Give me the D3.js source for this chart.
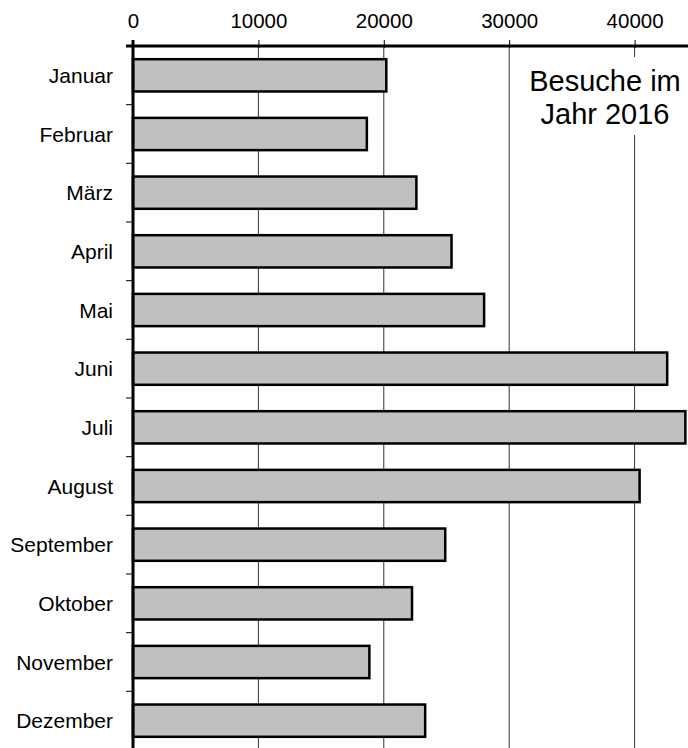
<!DOCTYPE html>
<html><head><meta charset="utf-8">
<script src="https://cdn.jsdelivr.net/npm/d3@7"></script>
<style>body{margin:0;background:#fff}svg{display:block}text{font-family:"Liberation Sans",Arial,sans-serif}</style>
</head><body>
<svg id="c" width="688" height="748"></svg>
<script>
const months = ["Januar","Februar","März","April","Mai","Juni","Juli","August","September","Oktober","November","Dezember"];
const visits = [20200,18650,22600,25400,28000,42600,44050,40400,24900,22250,18850,23300];
const xTicks = [0,10000,20000,30000,40000];
const titleLines = ["Besuche im","Jahr 2016"];

const svg = d3.select("#c");
const x = d3.scaleLinear().domain([0,44260]).range([133,688]);
const y = d3.scaleBand().domain(months).range([46,750]).paddingInner(0.45).paddingOuter(0.225);

// gridlines
svg.append("g").selectAll("line").data(xTicks.slice(1)).join("line")
  .attr("x1",d=>x(d)).attr("x2",d=>x(d)).attr("y1",46).attr("y2",748)
  .attr("stroke","#333").attr("stroke-width",1);

// title with white background
const tg = svg.append("g");
tg.append("rect").attr("x",x(40000)-6).attr("y",57).attr("width",12).attr("height",78).attr("fill","#fff");
tg.append("text").attr("x",605).attr("y",91).attr("text-anchor","middle").attr("font-size",29).attr("fill","#000")
  .selectAll("tspan").data(titleLines).join("tspan").attr("x",605).attr("dy",(d,i)=>i?33:0).text(d=>d);

// bars
svg.append("g").selectAll("rect").data(months).join("rect")
  .attr("x",x(0)).attr("y",d=>y(d)).attr("width",(d,i)=>x(visits[i])-x(0)).attr("height",y.bandwidth())
  .attr("fill","#c0c0c0").attr("stroke","#000").attr("stroke-width",2.5);

// top axis
const ax = svg.append("g").attr("transform","translate(0,46)")
  .call(d3.axisTop(x).tickValues(xTicks).tickFormat(d3.format("d")).tickSize(7).tickSizeOuter(0));
ax.select(".domain").attr("stroke-width",3).attr("d","M126,0H688");
ax.selectAll(".tick line").attr("y2",-6).attr("y1",2).attr("stroke-width",1);
ax.selectAll(".tick text").attr("font-size",20.5).attr("y",-18).attr("dy",0).attr("fill","#000")
  .style("font-family","Liberation Sans, Arial, sans-serif");

// left axis
const step = y.step();
const bounds = d3.range(13).map(i=>46+i*step);
const lg = svg.append("g");
lg.append("line").attr("x1",x(0)).attr("x2",x(0)).attr("y1",40).attr("y2",748).attr("stroke","#000").attr("stroke-width",3);
lg.selectAll("line.t").data(bounds).join("line").attr("class","t")
  .attr("x1",x(0)-7).attr("x2",x(0)).attr("y1",d=>d).attr("y2",d=>d).attr("stroke","#000").attr("stroke-width",1);
lg.selectAll("text").data(months).join("text")
  .attr("x",113).attr("y",d=>y(d)+y.bandwidth()/2).attr("dy","0.36em").attr("text-anchor","end")
  .attr("font-size",21).attr("fill","#000").text(d=>d);
</script>
</body></html>
